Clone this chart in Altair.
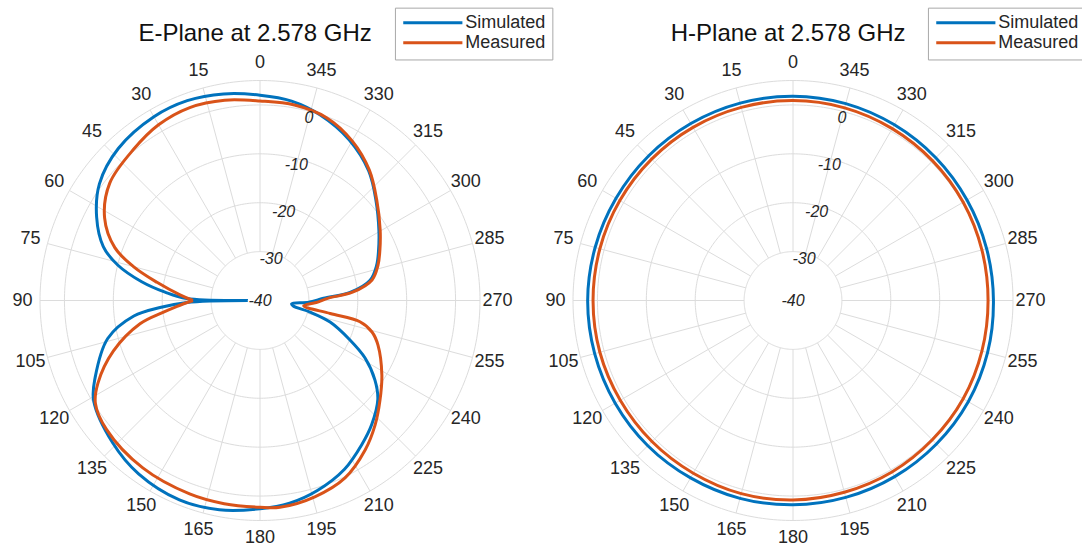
import altair as alt
import numpy as np
import pandas as pd

# ---------------- data ----------------
SERIES = ["Simulated", "Measured"]
COLORS = ["#0072BD", "#D95319"]
TITLES = {"E": "E-Plane at 2.578 GHz", "H": "H-Plane at 2.578 GHz"}

# E-plane traces start and end at the 90 deg null (angles past 360 wrap round)
E_SIM_THETA = [90, 91.5, 94, 97, 104, 115, 121, 134, 145, 158, 169, 180, 188.3, 196.8, 206.6, 215.2,
               222, 229.9, 235.3, 241.3, 246.3, 252.9, 257, 260.5, 264, 268, 272, 275.1, 280.4, 286.7,
               292.8, 300.4, 310.7, 320, 331, 342, 351, 360, 370, 380, 390, 403, 414, 423, 431, 436,
               441, 445, 448.5, 450]
E_SIM_DB = [-37.5, -25.0, -19.5, -14.0, -7.9, -2.8, -0.3, 1.9, 3.3, 4.0, 3.6, 2.6, 1.9, 0.6, -1.4, -3.9,
            -5.85, -8.5, -11.4, -15.5, -19.9, -25.0, -29.5, -33.1, -33.5, -30.0, -27.0, -21.5, -17.1,
            -15.1, -13.7, -11.8, -8.7, -5.4, -2.4, -0.1, 1.3, 2.0, 2.9, 3.5, 3.4, 2.5, 0.6, -2.5, -6.1,
            -10.0, -15.5, -20.5, -25.0, -37.5]

E_MEAS_THETA = [90, 94, 97, 101, 109, 117, 122, 130, 145, 160, 170, 180, 185.5, 195.6, 205.6, 215.1,
                222.7, 230.3, 238.6, 249.3, 254.3, 258, 259.5, 263, 268, 272, 275.1, 280.4, 286.7, 292.8,
                300.4, 310.7, 320, 330, 340, 350, 360, 370, 380, 390, 400, 412, 422, 430, 435, 440, 446,
                450]
E_MEAS_DB = [-26.3, -23.0, -20.0, -15.0, -8.3, -2.8, -0.3, 1.0, 1.8, 2.1, 2.2, 2.3, 2.5, 1.7, 0.25, -2.6,
             -5.3, -8.1, -10.8, -14.2, -16.2, -19.1, -25.4, -31.0, -28.5, -26.0, -21.0, -16.7, -14.8,
             -13.4, -11.5, -8.5, -5.2, -2.3, -0.2, 0.6, 0.8, 1.6, 2.0, 1.5, 0.3, -1.0, -4.0, -8.4, -13.2,
             -18.6, -23.6, -26.3]

H_SIM_THETA = [0, 15, 30, 45, 60, 75, 90, 105, 120, 135, 150, 165, 180, 195, 210, 225, 240, 255, 270,
               285, 300, 315, 330, 345]
H_SIM_DB = [1.8, 1.8, 1.8, 1.8, 1.8, 1.9, 2.0, 2.0, 2.0, 2.0, 1.9, 1.9, 1.8, 1.7, 1.6, 1.5, 1.4, 1.2, 1.0,
            1.0, 1.1, 1.3, 1.5, 1.7]

H_MEAS_THETA = [0, 15, 30, 45, 60, 75, 90, 105, 120, 135, 150, 165, 180, 195, 210, 225, 240, 255, 270,
                285, 300, 315, 330, 345]
H_MEAS_DB = [0.9, 0.9, 0.9, 0.9, 0.9, 0.9, 0.9, 0.9, 0.8, 0.8, 0.8, 0.9, 0.8, 0.6, 0.5, 0.3, 0.2, 0.0,
             -0.1, 0.0, 0.2, 0.4, 0.6, 0.8]

R_TICKS = [-40, -30, -20, -10, 0]
R_MIN, R_MAX = -40, 5
THETA_TICKS = list(range(0, 360, 15))

# ---------------- layout ----------------
W, H = 1082, 547
CXL, CXR, CY = 260, 793, 300.5
K = 220 / (R_MAX - R_MIN)          # pixels per dB
OFF = (CXR - CXL) / K
XDOM = [-CXL / K, (W - CXL) / K]
YDOM = [-(H - CY) / K, CY / K]
FONT = "Liberation Sans"
TXT = "#262626"
GRID = "#dcdcdc"


def X(f="x"):
    return alt.X(f"{f}:Q", scale=alt.Scale(domain=XDOM, nice=False, zero=False), axis=None)


def Y(f="y"):
    return alt.Y(f"{f}:Q", scale=alt.Scale(domain=YDOM, nice=False, zero=False), axis=None)


def polar(ch, db="db", xo="x", yo="y"):
    return ch.transform_calculate(
        cx=f"datum.plane == 'H' ? {OFF} : 0"
    ).transform_calculate(
        **{"rr_" + xo: f"max(datum.{db}, {R_MIN}) - ({R_MIN})"}
    ).transform_calculate(
        **{xo: f"datum.cx - datum.rr_{xo} * sin(datum.theta * PI / 180)",
           yo: f"datum.rr_{xo} * cos(datum.theta * PI / 180)"}
    )


def frame(plane, sname, th, db):
    return pd.DataFrame({"plane": plane, "series": sname, "i": range(len(th)), "theta": th, "db": db})


e_pat = pd.concat([frame("E", "Simulated", E_SIM_THETA, E_SIM_DB),
                   frame("E", "Measured", E_MEAS_THETA, E_MEAS_DB)])
h_pat = pd.concat([frame("H", "Simulated", H_SIM_THETA, H_SIM_DB),
                   frame("H", "Measured", H_MEAS_THETA, H_MEAS_DB)])

# grid circles
grid_rows = []
for plane in ["E", "H"]:
    for ring in R_TICKS[1:] + [R_MAX]:
        for j, t in enumerate(np.arange(0, 361, 1.0)):
            grid_rows.append({"plane": plane, "key": f"{plane}{ring}", "i": j, "theta": float(t),
                              "db": ring})
grid = pd.DataFrame(grid_rows)

spokes = pd.DataFrame([{"plane": p, "theta": t, "db": R_TICKS[1], "db2": R_MAX}
                       for p in ["E", "H"] for t in THETA_TICKS])

alabels = pd.DataFrame([{"plane": p, "theta": t, "db": 8.6, "label": str(t)}
                        for p in ["E", "H"] for t in THETA_TICKS])

rlabels = pd.DataFrame([{"plane": p, "theta": 345, "db": (v - 1.3) if v > R_MIN else R_MIN,
                         "label": str(v)} for p in ["E", "H"] for v in R_TICKS])

titles = pd.DataFrame([{"plane": p, "label": TITLES[p]} for p in ["E", "H"]])

legend = pd.DataFrame([{"plane": p, "series": s, "row": k}
                       for p in ["E", "H"] for k, s in enumerate(SERIES)])
legbox = pd.DataFrame([{"plane": p} for p in ["E", "H"]])

color = alt.Color("series:N", scale=alt.Scale(domain=SERIES, range=COLORS), legend=None)

# ---------------- layers ----------------
grid_layer = polar(alt.Chart(grid)).mark_line(strokeWidth=1, color=GRID).encode(
    x=X(), y=Y(), detail="key:N", order="i:Q")

spoke_layer = polar(polar(alt.Chart(spokes)), db="db2", xo="x2", yo="y2").mark_rule(
    strokeWidth=1, color=GRID).encode(x=X(), y=Y(), x2="x2:Q", y2="y2:Q")

line_layers = []
for s in SERIES:
    line_layers.append(
        polar(alt.Chart(e_pat)).transform_filter(alt.datum.series == s).mark_line(
            strokeWidth=3, interpolate="catmull-rom").encode(
            x=X(), y=Y(), color=color, order="i:Q"))
for s in SERIES:
    line_layers.append(
        polar(alt.Chart(h_pat)).transform_filter(alt.datum.series == s).mark_line(
            strokeWidth=3, interpolate="cardinal-closed").encode(
            x=X(), y=Y(), color=color, order="i:Q"))

alabel_layer = polar(alt.Chart(alabels)).mark_text(
    font=FONT, fontSize=18, color=TXT, align="center", baseline="middle").encode(
    x=X(), y=Y(), text="label:N")

rlabel_layer = polar(alt.Chart(rlabels)).mark_text(
    font=FONT, fontSize=16, fontStyle="italic", color=TXT, align="center", baseline="middle").encode(
    x=X(), y=Y(), text="label:N")

title_layer = alt.Chart(titles).transform_calculate(
    x=f"(datum.plane == 'H' ? {OFF} : 0) - 1.0", y="54.5"
).mark_text(font=FONT, fontSize=24, color="#111111", align="center", baseline="middle").encode(
    x=X(), y=Y(), text="label:N")

box_layer = alt.Chart(legbox).transform_calculate(
    cx=f"datum.plane == 'H' ? {OFF} : 0"
).transform_calculate(
    x="datum.cx + 27.7", x2="datum.cx + 59.9", y="59.8", y2="49.2"
).mark_rect(fill="white", stroke="#a8a8a8", strokeWidth=1).encode(
    x=X(), x2="x2:Q", y=Y(), y2="y2:Q")

leg_line = alt.Chart(legend).transform_calculate(
    cx=f"datum.plane == 'H' ? {OFF} : 0"
).transform_calculate(
    x="datum.cx + 29.3", x2="datum.cx + 41.4", y="56.8 - datum.row * 4.1"
).mark_rule(strokeWidth=3).encode(x=X(), x2="x2:Q", y=Y(), color=color)

leg_text = alt.Chart(legend).transform_calculate(
    cx=f"datum.plane == 'H' ? {OFF} : 0"
).transform_calculate(
    x="datum.cx + 42.0", y="56.8 - datum.row * 4.1"
).mark_text(font=FONT, fontSize=18, color=TXT, align="left", baseline="middle").encode(
    x=X(), y=Y(), text="series:N")

chart = alt.layer(
    grid_layer, spoke_layer, *line_layers, alabel_layer, rlabel_layer,
    title_layer, box_layer, leg_line, leg_text
).properties(
    width=W, height=H, padding=0, autosize=alt.AutoSizeParams(type="none"), background="white"
).configure_view(stroke=None)

chart.save("out.html", embed_options={"renderer": "svg", "actions": False})
